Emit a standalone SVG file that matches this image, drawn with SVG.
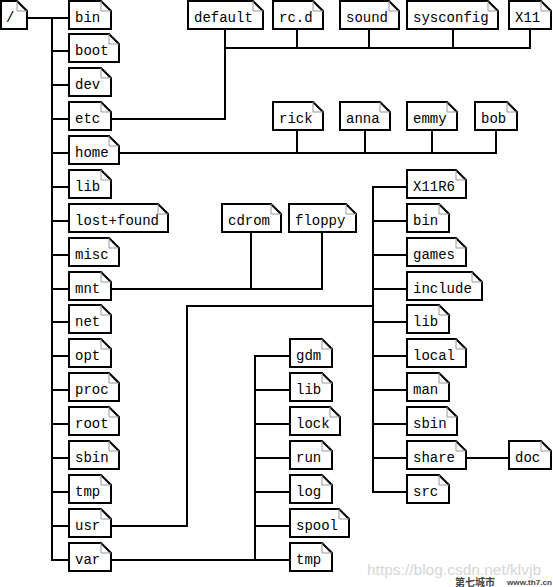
<svg xmlns="http://www.w3.org/2000/svg" xmlns:xlink="http://www.w3.org/1999/xlink" width="553" height="587" viewBox="0 0 553 587">
<style>
.box{fill:#fff;stroke:#000;stroke-width:2;stroke-linejoin:miter}
.fold{fill:none;stroke:#999;stroke-width:1}
.lbl{font-family:"Liberation Mono","DejaVu Sans Mono",monospace;font-size:14px;fill:#000}
.conn{fill:none;stroke:#000;stroke-width:2;stroke-linecap:square}
.wm{font-family:"Liberation Sans",Arial,sans-serif;font-size:15.5px;fill:#d6d6d6}
.logo{font-family:"Liberation Sans","Noto Sans CJK SC",sans-serif;font-weight:bold;fill:#444}
</style>
<defs>
<g id="b26"><path class="box" d="M0,0 H16 L26,10 V28 H0 Z"/><path class="fold" d="M16,0 V10 H26"/></g>
<g id="b42"><path class="box" d="M0,0 H32 L42,10 V28 H0 Z"/><path class="fold" d="M32,0 V10 H42"/></g>
<g id="b50"><path class="box" d="M0,0 H40 L50,10 V28 H0 Z"/><path class="fold" d="M40,0 V10 H50"/></g>
<g id="b59"><path class="box" d="M0,0 H49 L59,10 V28 H0 Z"/><path class="fold" d="M49,0 V10 H59"/></g>
<g id="b67"><path class="box" d="M0,0 H57 L67,10 V28 H0 Z"/><path class="fold" d="M57,0 V10 H67"/></g>
<g id="b75"><path class="box" d="M0,0 H65 L75,10 V28 H0 Z"/><path class="fold" d="M65,0 V10 H75"/></g>
<g id="b91"><path class="box" d="M0,0 H81 L91,10 V28 H0 Z"/><path class="fold" d="M81,0 V10 H91"/></g>
<g id="b99"><path class="box" d="M0,0 H89 L99,10 V28 H0 Z"/><path class="fold" d="M89,0 V10 H99"/></g>
</defs>

<g id="connectors" class="conn">
<path d="M27,18 H69"/>
<path d="M52,18 V560"/>
<path d="M52,51 H69 M52,85 H69 M52,119 H69 M52,153 H69 M52,187 H69 M52,221 H69 M52,255 H69 M52,289 H69 M52,322 H69 M52,356 H69 M52,390 H69 M52,424 H69 M52,458 H69 M52,492 H69 M52,526 H69 M52,560 H69"/>
<path d="M111,119 H225 V29"/>
<path d="M225,48 H530 M297,29 V48 M369,29 V48 M453,29 V48 M530,29 V48"/>
<path d="M119,153 H496 M297,130 V153 M365,130 V153 M432,130 V153 M496,130 V153"/>
<path d="M111,289 H322 M251,232 V289 M322,232 V289"/>
<path d="M111,526 H187 V306 H373"/>
<path d="M373,187 V492"/>
<path d="M373,187 H407 M373,221 H407 M373,255 H407 M373,289 H407 M373,322 H407 M373,356 H407 M373,390 H407 M373,424 H407 M373,458 H407 M373,492 H407"/>
<path d="M466,458 H509"/>
<path d="M111,560 H290 M255,356 V560"/>
<path d="M255,356 H290 M255,390 H290 M255,424 H290 M255,458 H290 M255,492 H290 M255,526 H290"/>
</g>

<g id="root"><use xlink:href="#b26" x="1" y="1"/><text class="lbl" x="6" y="22">/</text></g>

<g id="bin"><use xlink:href="#b42" x="69" y="1"/><text class="lbl" x="75" y="22">bin</text></g>
<g id="boot"><use xlink:href="#b50" x="69" y="34"/><text class="lbl" x="75" y="55">boot</text></g>
<g id="dev"><use xlink:href="#b42" x="69" y="68"/><text class="lbl" x="75" y="89">dev</text></g>
<g id="etc"><use xlink:href="#b42" x="69" y="102"/><text class="lbl" x="75" y="123">etc</text></g>
<g id="home"><use xlink:href="#b50" x="69" y="136"/><text class="lbl" x="75" y="157">home</text></g>
<g id="lib"><use xlink:href="#b42" x="69" y="170"/><text class="lbl" x="75" y="191">lib</text></g>
<g id="lost-found"><use xlink:href="#b99" x="69" y="204"/><text class="lbl" x="75" y="225">lost+found</text></g>
<g id="misc"><use xlink:href="#b50" x="69" y="238"/><text class="lbl" x="75" y="259">misc</text></g>
<g id="mnt"><use xlink:href="#b42" x="69" y="272"/><text class="lbl" x="75" y="293">mnt</text></g>
<g id="net"><use xlink:href="#b42" x="69" y="305"/><text class="lbl" x="75" y="326">net</text></g>
<g id="opt"><use xlink:href="#b42" x="69" y="339"/><text class="lbl" x="75" y="360">opt</text></g>
<g id="proc"><use xlink:href="#b50" x="69" y="373"/><text class="lbl" x="75" y="394">proc</text></g>
<g id="rootdir"><use xlink:href="#b50" x="69" y="407"/><text class="lbl" x="75" y="428">root</text></g>
<g id="sbin"><use xlink:href="#b50" x="69" y="441"/><text class="lbl" x="75" y="462">sbin</text></g>
<g id="tmp"><use xlink:href="#b42" x="69" y="475"/><text class="lbl" x="75" y="496">tmp</text></g>
<g id="usr"><use xlink:href="#b42" x="69" y="509"/><text class="lbl" x="75" y="530">usr</text></g>
<g id="var"><use xlink:href="#b42" x="69" y="543"/><text class="lbl" x="75" y="564">var</text></g>

<g id="etc-default"><use xlink:href="#b75" x="188" y="1"/><text class="lbl" x="194" y="22">default</text></g>
<g id="etc-rcd"><use xlink:href="#b50" x="273" y="1"/><text class="lbl" x="279" y="22">rc.d</text></g>
<g id="etc-sound"><use xlink:href="#b59" x="340" y="1"/><text class="lbl" x="346" y="22">sound</text></g>
<g id="etc-sysconfig"><use xlink:href="#b91" x="407" y="1"/><text class="lbl" x="413" y="22">sysconfig</text></g>
<g id="etc-X11"><use xlink:href="#b42" x="509" y="1"/><text class="lbl" x="515" y="22">X11</text></g>

<g id="home-rick"><use xlink:href="#b50" x="273" y="102"/><text class="lbl" x="279" y="123">rick</text></g>
<g id="home-anna"><use xlink:href="#b50" x="340" y="102"/><text class="lbl" x="346" y="123">anna</text></g>
<g id="home-emmy"><use xlink:href="#b50" x="407" y="102"/><text class="lbl" x="413" y="123">emmy</text></g>
<g id="home-bob"><use xlink:href="#b42" x="475" y="102"/><text class="lbl" x="481" y="123">bob</text></g>

<g id="mnt-cdrom"><use xlink:href="#b59" x="222" y="204"/><text class="lbl" x="228" y="225">cdrom</text></g>
<g id="mnt-floppy"><use xlink:href="#b67" x="289" y="204"/><text class="lbl" x="295" y="225">floppy</text></g>

<g id="usr-X11R6"><use xlink:href="#b59" x="407" y="170"/><text class="lbl" x="413" y="191">X11R6</text></g>
<g id="usr-bin"><use xlink:href="#b42" x="407" y="204"/><text class="lbl" x="413" y="225">bin</text></g>
<g id="usr-games"><use xlink:href="#b59" x="407" y="238"/><text class="lbl" x="413" y="259">games</text></g>
<g id="usr-include"><use xlink:href="#b75" x="407" y="272"/><text class="lbl" x="413" y="293">include</text></g>
<g id="usr-lib"><use xlink:href="#b42" x="407" y="305"/><text class="lbl" x="413" y="326">lib</text></g>
<g id="usr-local"><use xlink:href="#b59" x="407" y="339"/><text class="lbl" x="413" y="360">local</text></g>
<g id="usr-man"><use xlink:href="#b42" x="407" y="373"/><text class="lbl" x="413" y="394">man</text></g>
<g id="usr-sbin"><use xlink:href="#b50" x="407" y="407"/><text class="lbl" x="413" y="428">sbin</text></g>
<g id="usr-share"><use xlink:href="#b59" x="407" y="441"/><text class="lbl" x="413" y="462">share</text></g>
<g id="usr-src"><use xlink:href="#b42" x="407" y="475"/><text class="lbl" x="413" y="496">src</text></g>
<g id="share-doc"><use xlink:href="#b42" x="509" y="441"/><text class="lbl" x="515" y="462">doc</text></g>

<g id="var-gdm"><use xlink:href="#b42" x="290" y="339"/><text class="lbl" x="296" y="360">gdm</text></g>
<g id="var-lib"><use xlink:href="#b42" x="290" y="373"/><text class="lbl" x="296" y="394">lib</text></g>
<g id="var-lock"><use xlink:href="#b50" x="290" y="407"/><text class="lbl" x="296" y="428">lock</text></g>
<g id="var-run"><use xlink:href="#b42" x="290" y="441"/><text class="lbl" x="296" y="462">run</text></g>
<g id="var-log"><use xlink:href="#b42" x="290" y="475"/><text class="lbl" x="296" y="496">log</text></g>
<g id="var-spool"><use xlink:href="#b59" x="290" y="509"/><text class="lbl" x="296" y="530">spool</text></g>
<g id="var-tmp"><use xlink:href="#b42" x="290" y="543"/><text class="lbl" x="296" y="564">tmp</text></g>

<text class="wm" x="367" y="575">https://blog.csdn.net/klvjb</text>
<text class="logo" x="455" y="586" font-size="10">第七城市</text>
<text class="logo" x="507" y="585" font-size="7" textLength="45" lengthAdjust="spacingAndGlyphs">www.th7.cn</text>
</svg>
